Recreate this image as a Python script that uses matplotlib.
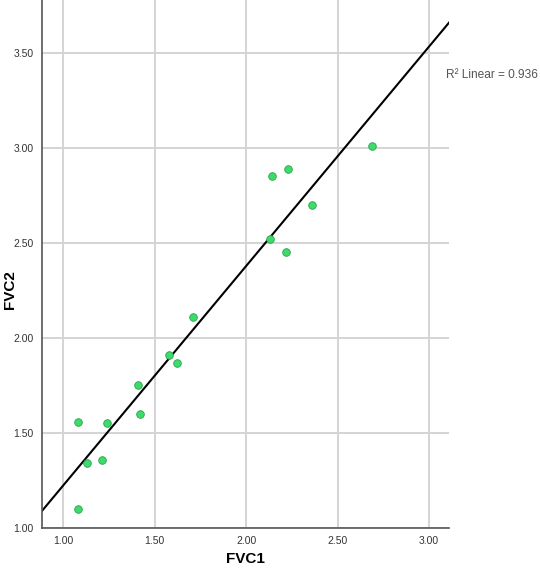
import numpy as np
import matplotlib
matplotlib.use("Agg")
import matplotlib.pyplot as plt

# values
fvc1 = [1.08, 1.08, 1.13, 1.21, 1.24, 1.41, 1.42, 1.58, 1.62, 1.71,
        2.13, 2.14, 2.22, 2.23, 2.36, 2.69]
fvc2 = [1.56, 1.10, 1.34, 1.36, 1.55, 1.75, 1.60, 1.91, 1.87, 2.11,
        2.52, 2.85, 2.45, 2.89, 2.70, 3.01]
xticks = [1.00, 1.50, 2.00, 2.50, 3.00]
yticks = [1.00, 1.50, 2.00, 2.50, 3.00, 3.50]
r2_label = "R² Linear = 0.936"

plt.rcParams['font.family'] = ['Liberation Sans', 'DejaVu Sans']

fig = plt.figure(figsize=(5.40, 5.71), dpi=100)
ax = fig.add_axes([42/540, 1 - 528/571, (449-42)/540, 528/571])

xmin, xmax = 0.883, 3.11
ax.set_xlim(xmin, xmax)
ax.set_ylim(1.0, 3.777)

ax.set_xticks(xticks)
ax.set_yticks(yticks)
ax.set_xticklabels(["%.2f" % t for t in xticks])
ax.set_yticklabels(["%.2f" % t for t in yticks])
ax.tick_params(length=0, labelsize=7.5, colors="#333333", pad=6)
ax.grid(True, color="#d4d4d4", linewidth=1.4)
ax.set_axisbelow(True)

for s in ["top", "right"]:
    ax.spines[s].set_visible(False)
for s in ["left", "bottom"]:
    ax.spines[s].set_color("#555555")
    ax.spines[s].set_linewidth(1.2)

# fit line
slope, icpt = np.polyfit(fvc1, fvc2, 1)
xx = np.array([xmin, xmax])
ax.plot(xx, slope * xx + icpt, color="black", linewidth=1.5, zorder=2)

ax.scatter(fvc1, fvc2, s=30, color="#3ddc6a", edgecolors="#2aa14c",
           linewidths=0.6, zorder=3)

fig.text(245/540, 1 - 559/571, "FVC1", fontsize=11, fontweight="bold",
         ha="center", va="center")
fig.text(10/540, 1 - 290/571, "FVC2", fontsize=11, fontweight="bold",
         ha="center", va="center", rotation=90)

fig.text(446/540, 1 - 75/571, r2_label, fontsize=8.6, color="#555555",
         va="center", ha="left")

fig.savefig("out.png", dpi=100)
